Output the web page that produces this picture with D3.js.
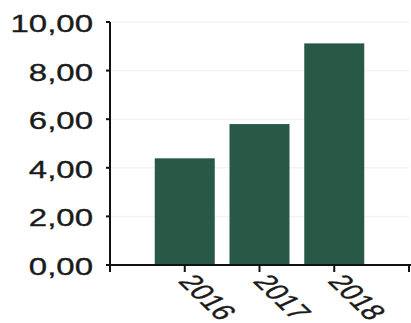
<!DOCTYPE html>
<html><head><meta charset="utf-8">
<script src="https://cdn.jsdelivr.net/npm/d3@7"></script>
<style>html,body{margin:0;padding:0;background:#fff;overflow:hidden}</style>
</head><body>
<svg id="c" width="411" height="323"></svg>
<script>
const categories = ["2016", "2017", "2018"];
const values = [4.39, 5.80, 9.12];
const yTicks = [0, 2, 4, 6, 8, 10];

const svg = d3.select("#c");
const x0 = 110, x1 = 409, y0 = 265, y1 = 22;
const slots = ["_start"].concat(categories, ["_end"]);
const x = d3.scalePoint().domain(slots).range([x0, x1]);
const y = d3.scaleLinear().domain([0, 10]).range([y0, y1]);
const fmt = v => d3.format(".2f")(v).replace(".", ",");
const barW = 60;
const sx = 1.5;

// faint gridlines
svg.append("g").selectAll("line").data(yTicks.filter(d => d > 0)).join("line")
  .attr("x1", x0).attr("x2", x1).attr("y1", d => y(d)).attr("y2", d => y(d))
  .attr("stroke", "#f3f3f3").attr("stroke-width", 1.5);

// bars
svg.append("g").selectAll("rect").data(categories).join("rect")
  .attr("x", (d) => x(d) - barW / 2)
  .attr("width", barW)
  .attr("y", (d, i) => y(values[i]))
  .attr("height", (d, i) => y(0) - y(values[i]))
  .attr("fill", "#285846");

// y axis
const ya = svg.append("g");
ya.append("line").attr("x1", x0).attr("x2", x0).attr("y1", y(10)).attr("y2", y0 + 7)
  .attr("stroke", "#111").attr("stroke-width", 2);
ya.selectAll("line.t").data(yTicks).join("line").attr("class", "t")
  .attr("x1", x0 - 4).attr("x2", x0).attr("y1", d => y(d)).attr("y2", d => y(d))
  .attr("stroke", "#111").attr("stroke-width", 2);
ya.selectAll("text").data(yTicks).join("text")
  .attr("transform", d => `translate(93,${y(d) + 2}) scale(${sx},1.05)`)
  .attr("text-anchor", "end").attr("dy", "0.35em")
  .attr("font-family", "Liberation Sans, Arial, sans-serif").attr("font-size", 22)
  .attr("fill", "#1a1a1a").attr("stroke", "#1a1a1a").attr("stroke-width", 0.3)
  .text(d => fmt(d));

// x axis
const xa = svg.append("g");
xa.append("line").attr("x1", x0 - 4).attr("x2", 411).attr("y1", y0).attr("y2", y0)
  .attr("stroke", "#111").attr("stroke-width", 2);
xa.selectAll("line.t").data(slots.slice(1)).join("line").attr("class", "t")
  .attr("x1", d => x(d)).attr("x2", d => x(d)).attr("y1", y0).attr("y2", y0 + 7)
  .attr("stroke", "#111").attr("stroke-width", 2);
xa.selectAll("text").data(categories).join("text")
  .attr("transform", d => `translate(${x(d) + 2},${y0 + 12}) scale(${sx},1) rotate(55)`)
  .attr("text-anchor", "start").attr("dy", "0.35em")
  .attr("font-family", "Liberation Sans, Arial, sans-serif").attr("font-size", 22)
  .attr("fill", "#1a1a1a").attr("stroke", "#1a1a1a").attr("stroke-width", 0.3)
  .text(d => d);
</script>
</body></html>
